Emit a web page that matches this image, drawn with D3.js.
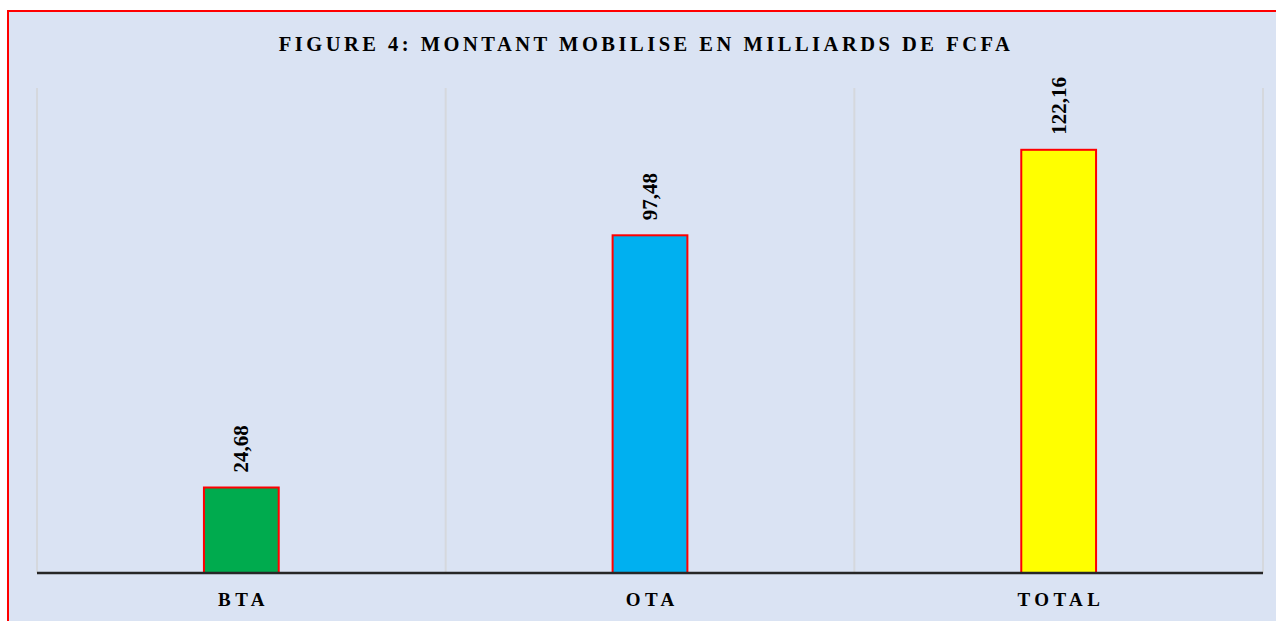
<!DOCTYPE html>
<html><head><meta charset="utf-8">
<script src="https://cdn.jsdelivr.net/npm/d3@7"></script>
<style>
html,body{margin:0;padding:0;background:#fff;}
svg{display:block;}
</style></head>
<body>
<svg id="c" width="1276" height="621"></svg>
<script>
const categories = ["BTA", "OTA", "TOTAL"];
const values = [24.68, 97.48, 122.16];
const labels = ["24,68", "97,48", "122,16"];
const colors = ["#00AB4E", "#00B0F0", "#FFFF00"];
const title = "FIGURE 4: MONTANT MOBILISE EN MILLIARDS DE FCFA";

const svg = d3.select("#c");
const W = 1276, H = 621;
const serif = "Liberation Serif, Times New Roman, serif";
svg.append("rect").attr("x", 8).attr("y", 11).attr("width", W + 10).attr("height", H + 10)
  .attr("fill", "#DAE3F3").attr("stroke", "#FF0000").attr("stroke-width", 2);

const m = {left: 37, right: 1263, top: 88, bottom: 573};
const x = d3.scaleBand().domain(categories).range([m.left, m.right]).paddingInner(0).paddingOuter(0);
const y = d3.scaleLinear().domain([0, 140]).range([m.bottom, m.top]);

// vertical gridlines at category boundaries
const bounds = categories.map(c => x(c)).concat([m.right]);
svg.append("g").selectAll("line").data(bounds).join("line")
  .attr("x1", d => d).attr("x2", d => d).attr("y1", m.top).attr("y2", m.bottom)
  .attr("stroke", "#D5D8DD").attr("stroke-width", 2);

const bw = x.bandwidth() * 0.183;
svg.append("g").selectAll("rect").data(values).join("rect")
  .attr("x", (d, i) => x(categories[i]) + x.bandwidth() / 2 - bw / 2)
  .attr("y", d => y(d))
  .attr("width", bw)
  .attr("height", d => y(0) - y(d))
  .attr("fill", (d, i) => colors[i])
  .attr("stroke", "#FF0000").attr("stroke-width", 2);

// value labels (rotated)
svg.append("g").selectAll("text").data(values).join("text")
  .attr("transform", (d, i) => `translate(${x(categories[i]) + x.bandwidth() / 2 + 7},${y(d) - 15}) rotate(-90)`)
  .attr("text-anchor", "start")
  .attr("font-family", serif)
  .attr("font-weight", "bold").attr("font-size", 21)
  .attr("fill", "#000")
  .text((d, i) => labels[i]);

// axis
const xAxis = d3.axisBottom(x).tickSize(0).tickPadding(0);
const ax = svg.append("g").attr("transform", `translate(0,${m.bottom})`).call(xAxis);
ax.select(".domain").attr("stroke", "#262626").attr("stroke-width", 2.5).attr("d", `M${m.left},0H${m.right}`);
ax.selectAll("text")
  .attr("y", 33).attr("dy", null).attr("dx", 2.2)
  .attr("font-family", serif)
  .attr("font-weight", "bold").attr("font-size", 19)
  .attr("letter-spacing", "4.4px")
  .attr("fill", "#000");

svg.append("text").attr("x", 646).attr("y", 51).attr("text-anchor", "middle")
  .attr("font-family", serif)
  .attr("font-weight", "bold").attr("font-size", 20.5)
  .attr("letter-spacing", "3.5px")
  .attr("fill", "#000")
  .text(title);
</script>
</body></html>
